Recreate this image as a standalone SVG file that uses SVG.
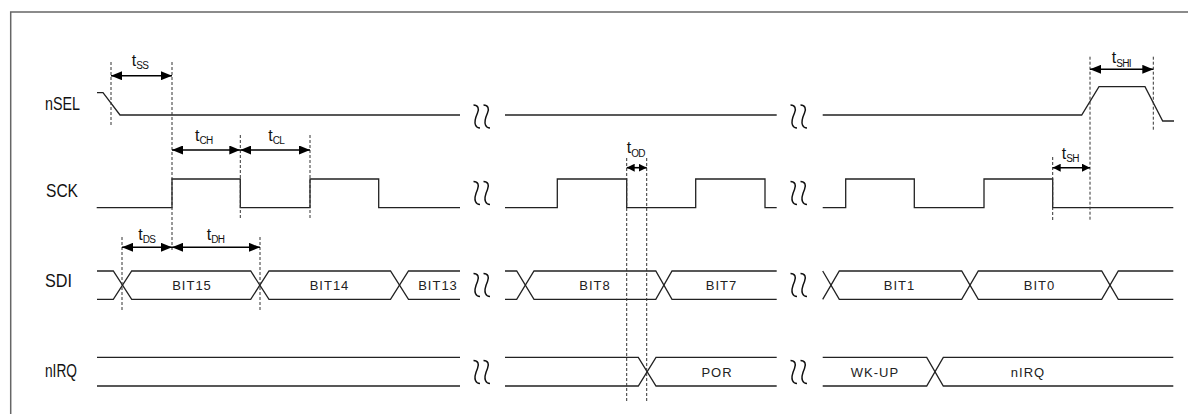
<svg xmlns="http://www.w3.org/2000/svg" xmlns:xlink="http://www.w3.org/1999/xlink" width="1188" height="414" viewBox="0 0 1188 414">
<style>
.sig{fill:none;stroke:#222;stroke-width:1.3}
.dash{fill:none;stroke:#333;stroke-width:1;stroke-dasharray:3 2}
.arr{fill:none;stroke:#000;stroke-width:1.6;marker-start:url(#ah);marker-end:url(#ah)}
.arrs{fill:none;stroke:#000;stroke-width:1.6;marker-start:url(#ahs);marker-end:url(#ahs)}
.lbl{font-family:"Liberation Sans",Arial,sans-serif;font-size:18px;fill:#111}
.bus{font-family:"Liberation Sans",Arial,sans-serif;font-size:13px;letter-spacing:1px;fill:#222;text-anchor:middle}
.tm{font-family:"Liberation Sans",Arial,sans-serif;font-size:16px;fill:#111}
.sub{font-size:10px;letter-spacing:-0.6px}
.sq{fill:none;stroke:#111;stroke-width:1.5}
</style>
<defs>
<marker id="ah" markerUnits="userSpaceOnUse" markerWidth="11" markerHeight="9" refX="11" refY="4.5" orient="auto-start-reverse"><path d="M0,0 L11,4.5 L0,9 Z" fill="#000"/></marker>
<marker id="ahs" markerUnits="userSpaceOnUse" markerWidth="8" markerHeight="8" refX="8" refY="4" orient="auto-start-reverse"><path d="M0,0 L8,4 L0,8 Z" fill="#000"/></marker>
<g id="sqz">
<path class="sq" d="M-5.5,-11.5 C-1,-11.5 0.5,-8 -1.5,-3.5 C-3.5,1 -5,5 -3.5,8.5 C-2.5,11 -1,11.5 1,11.5"/>
<path class="sq" d="M4.5,-11.5 C9,-11.5 10.5,-8 8.5,-3.5 C6.5,1 5,5 6.5,8.5 C7.5,11 9,11.5 11,11.5"/>
</g>
</defs>
<rect x="0" y="0" width="1188" height="414" fill="#fff"/>
<path d="M10.7,414 V12 H1188" fill="none" stroke="#666" stroke-width="1.5"/>

<g id="nSEL">
<text class="lbl" x="45" y="110" textLength="35" lengthAdjust="spacingAndGlyphs">nSEL</text>
<path class="sig" d="M97,92.7 H103 L120,115 H460"/>
<path class="sig" d="M505,115 H776.7"/>
<path class="sig" d="M822.7,115 H1081.7 L1099,86.7 H1145 L1162.7,121 H1174"/>
<use xlink:href="#sqz" x="479" y="116.5"/>
<use xlink:href="#sqz" x="796" y="116.5"/>
</g>

<g id="SCK">
<text class="lbl" x="46" y="197" textLength="32" lengthAdjust="spacingAndGlyphs">SCK</text>
<path class="sig" d="M96.7,207.7 H172 V179 H240.3 V207.7 H310 V179 H378.7 V207.7 H460"/>
<path class="sig" d="M505,207.7 H557.3 V179 H626.7 V207.7 H695.7 V179 H765 V207.7 H776.7"/>
<path class="sig" d="M822.7,207.7 H845.7 V179 H914.3 V207.7 H984 V179 H1052.7 V207.7 H1173.3"/>
<use xlink:href="#sqz" x="479" y="193"/>
<use xlink:href="#sqz" x="796" y="193"/>
</g>

<g id="SDI">
<text class="lbl" x="45" y="287" textLength="27" lengthAdjust="spacingAndGlyphs">SDI</text>
<path class="sig" d="M97,271 H113.3 L131.7,299.3 H250.7 L269,271 H390.5 L408.5,299.3 H460"/>
<path class="sig" d="M97,299.3 H113.3 L131.7,271 H250.7 L269,299.3 H390.5 L408.5,271 H460"/>
<path class="sig" d="M505,271 H516.7 L534,299.3 H655.8 L672,271 H776.7"/>
<path class="sig" d="M505,299.3 H516.7 L534,271 H655.8 L672,299.3 H776.7"/>
<path class="sig" d="M822.7,271 L839.3,299.3 H961.7 L978.3,271 H1101.7 L1118.3,299.3 H1173.3"/>
<path class="sig" d="M822.7,299.3 L839.3,271 H961.7 L978.3,299.3 H1101.7 L1118.3,271 H1173.3"/>
<text class="bus" x="192" y="290">BIT15</text>
<text class="bus" x="329.5" y="290">BIT14</text>
<text class="bus" x="438" y="290">BIT13</text>
<text class="bus" x="595" y="290">BIT8</text>
<text class="bus" x="721.5" y="290">BIT7</text>
<text class="bus" x="899.5" y="290">BIT1</text>
<text class="bus" x="1039.5" y="290">BIT0</text>
<use xlink:href="#sqz" x="479" y="285"/>
<use xlink:href="#sqz" x="796" y="285"/>
</g>

<g id="nIRQ">
<text class="lbl" x="45" y="377" textLength="32" lengthAdjust="spacingAndGlyphs">nIRQ</text>
<path class="sig" d="M97,357.3 H460 M97,386 H460"/>
<path class="sig" d="M505,357.3 H638.3 L656,386 H776.7"/>
<path class="sig" d="M505,386 H638.3 L656,357.3 H776.7"/>
<path class="sig" d="M822.7,357.3 H926.7 L943.3,386 H1173.3"/>
<path class="sig" d="M822.7,386 H926.7 L943.3,357.3 H1173.3"/>
<text class="bus" x="717" y="377">POR</text>
<text class="bus" x="875" y="377">WK-UP</text>
<text class="bus" x="1028" y="377">nIRQ</text>
<use xlink:href="#sqz" x="479" y="372"/>
<use xlink:href="#sqz" x="796" y="372"/>
</g>

<g id="connectors">
<path class="dash" d="M111,62 V127"/>
<path class="dash" d="M172,62 V252"/>
<path class="dash" d="M240.3,135 V218"/>
<path class="dash" d="M310,135 V218"/>
<path class="dash" d="M122,237 V311"/>
<path class="dash" d="M260,237 V311"/>
<path class="dash" d="M626.7,158 V402"/>
<path class="dash" d="M646.7,158 V402"/>
<path class="dash" d="M1052.7,157 V220"/>
<path class="dash" d="M1090,56.7 V220"/>
<path class="dash" d="M1153.3,56.7 V130"/>
<path class="arr" d="M111,75.7 H172"/>
<path class="arr" d="M172,150 H240.3"/>
<path class="arr" d="M240.3,150 H310"/>
<path class="arr" d="M122,247.3 H172"/>
<path class="arr" d="M172,247.3 H260"/>
<path class="arrs" d="M626.7,167.7 H646.7"/>
<path class="arrs" d="M1052.7,167.7 H1090"/>
<path class="arr" d="M1090,69.3 H1153.3"/>
</g>

<g id="timing-labels">
<text class="tm" x="131.7" y="65.5">t<tspan class="sub" dy="3.5">SS</tspan></text>
<text class="tm" x="195" y="141">t<tspan class="sub" dy="3">CH</tspan></text>
<text class="tm" x="268.3" y="141">t<tspan class="sub" dy="3">CL</tspan></text>
<text class="tm" x="138.3" y="240">t<tspan class="sub" dy="3">DS</tspan></text>
<text class="tm" x="206.7" y="240">t<tspan class="sub" dy="3">DH</tspan></text>
<text class="tm" x="626.7" y="153.3">t<tspan class="sub" dy="3.4">OD</tspan></text>
<text class="tm" x="1061.7" y="159">t<tspan class="sub" dy="3">SH</tspan></text>
<text class="tm" x="1111.7" y="63.3">t<tspan class="sub" dy="3.4">SHI</tspan></text>
</g>
</svg>
